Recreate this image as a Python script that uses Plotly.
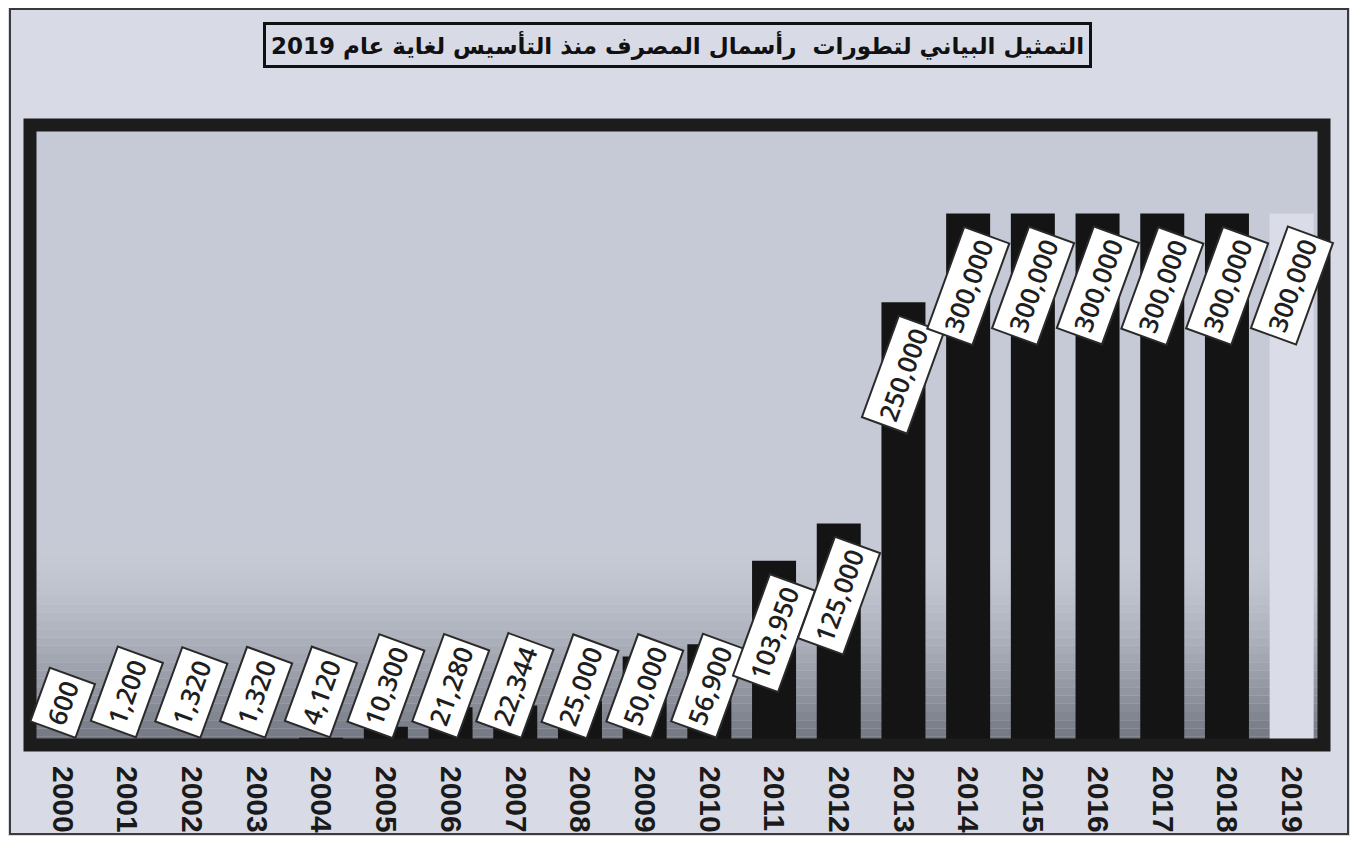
import plotly.graph_objects as go

# ---------------- data ----------------
years = ["2000", "2001", "2002", "2003", "2004", "2005", "2006", "2007", "2008", "2009",
         "2010", "2011", "2012", "2013", "2014", "2015", "2016", "2017", "2018", "2019"]
capital = [600, 1200, 1320, 1320, 4120, 10300, 21280, 22344, 25000, 50000,
           56900, 103950, 125000, 250000, 300000, 300000, 300000, 300000, 300000, 300000]
title_text = "التمثيل البياني لتطورات  رأسمال المصرف منذ التأسيس لغاية عام 2019"

# ---------------- style ----------------
# the page body has an 8px margin, so the figure is drawn 8px in from the window edge
W, H = 1342, 828
M_L, M_R, M_T, M_B = 22, 26, 117, 91
PLOT_W = W - M_L - M_R
PLOT_H = H - M_T - M_B

bar_colors = ["#141414"] * (len(years) - 1) + ["#dadde8"]

fig = go.Figure()
fig.add_trace(go.Bar(
    x=years, y=capital,
    marker=dict(color=bar_colors, line=dict(width=0)),
    hoverinfo="skip",
))

# data labels: white boxes, rotated
for i, v in enumerate(capital):
    big = v >= 100000
    fig.add_annotation(
        x=i, y=v if big else 0,
        xref="x", yref="y",
        text=f"{v:,}",
        textangle=-70,
        showarrow=False,
        xanchor="center",
        yanchor="top" if big else "bottom",
        yshift=-12 if big else 6,
        bgcolor="#ffffff",
        bordercolor="#2a2a2a",
        borderwidth=2,
        borderpad=5,
        font=dict(family="Open Sans", size=26, color="#1e1e1e", weight=600),
    )

# title in a box
fig.add_annotation(
    x=0.5, y=1 + 80 / PLOT_H, xref="paper", yref="paper",
    text="<b>" + title_text + "</b>",
    showarrow=False, xanchor="center", yanchor="middle",
    bordercolor="#111111", borderwidth=3, borderpad=5,
    bgcolor="rgba(0,0,0,0)",
    font=dict(family="DejaVu Sans", size=23, color="#111111"),
)

shapes = []
# darkening gradient near the bottom of the plot area
n_bands = 24
top_c = (198, 202, 213)
bot_c = (110, 114, 124)
band_top = 0.32
for k in range(n_bands):
    t = (k + 0.5) / n_bands
    c = tuple(int(round(top_c[j] + (bot_c[j] - top_c[j]) * (t ** 1.6))) for j in range(3))
    y1 = band_top * (1 - k / n_bands)
    y0 = band_top * (1 - (k + 1) / n_bands)
    shapes.append(dict(type="rect", xref="paper", yref="paper", x0=0, x1=1, y0=y0, y1=y1,
                       fillcolor="rgb(%d,%d,%d)" % c, line=dict(width=0), layer="below"))
# thick frame around the plot area
shapes.append(dict(type="rect", xref="paper", yref="paper", x0=0, x1=1, y0=0, y1=1,
                   line=dict(color="#1c1c1c", width=13), layer="above"))
# thin page border
shapes.append(dict(type="rect", xref="paper", yref="paper",
                   x0=(2 - M_L) / PLOT_W, x1=(W - 2 - M_L) / PLOT_W,
                   y0=-(M_B - 2) / PLOT_H, y1=1 + (M_T - 1) / PLOT_H,
                   line=dict(color="#3a3a3a", width=2), layer="below"))

fig.update_layout(
    width=W, height=H,
    margin=dict(l=M_L, r=M_R, t=M_T, b=M_B, pad=0, autoexpand=False),
    paper_bgcolor="#d8dbe6",
    plot_bgcolor="#c6cad6",
    showlegend=False,
    bargap=0.32,
    shapes=shapes,
    xaxis=dict(
        type="category",
        range=[-0.5, len(years) - 0.5],
        tickangle=90,
        tickfont=dict(family="Liberation Sans", size=30, color="#1a1a1a", weight="bold"),
        showgrid=False, zeroline=False, showline=False,
        ticks="", ticklabelstandoff=20, automargin=False,
    ),
    yaxis=dict(
        range=[0, 350000], automargin=False,
        showticklabels=False, showgrid=False, zeroline=False, showline=False, ticks="",
    ),
)

fig.write_html("out.html")
